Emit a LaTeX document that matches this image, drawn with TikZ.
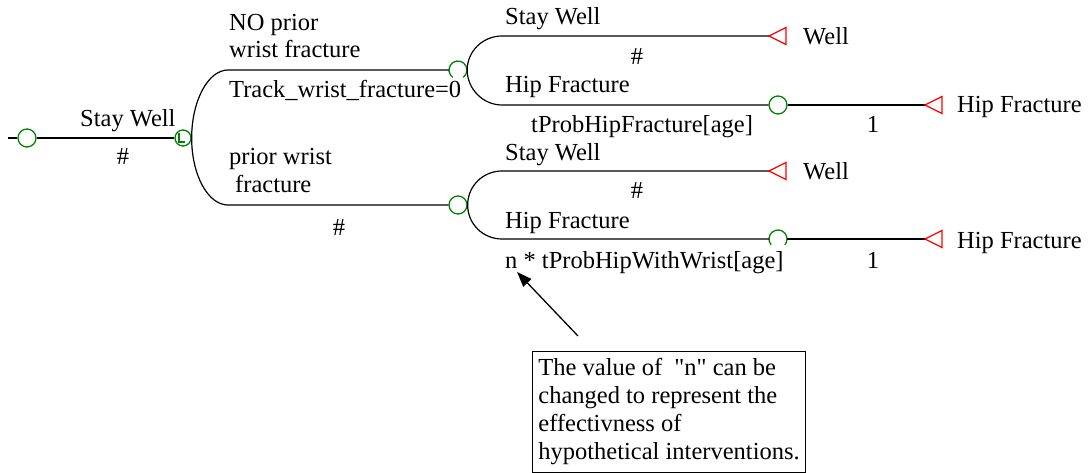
\documentclass[tikz,border=0pt]{standalone}
\usepackage{fontspec}
\setmainfont{Liberation Serif}[Ligatures=NoCommon]
\newfontfamily\treefont{LiberationSerif-Regular.ttf}[Ligatures=NoCommon]
\usetikzlibrary{arrows.meta}
\definecolor{tgreen}{RGB}{0,128,0}
\definecolor{tred}{RGB}{255,0,0}
\tikzset{
  every node/.style={font=\treefont\fontsize{24.5}{28}\selectfont, inner sep=0pt},
  branch/.style={draw=black, line width=1.2pt},
  chance/.style={circle, draw=tgreen, line width=1.3pt, minimum size=18pt},
  chancehid/.style={circle, draw=none, minimum size=18pt},
  markov/.style={circle, draw=tgreen, line width=1.3pt, minimum size=16pt},
  lbl/.style={anchor=base west},
  clbl/.style={anchor=base},
  note/.style={draw=black, line width=0.8pt, align=left, anchor=north west, inner xsep=6pt, inner ysep=7pt},
  term/.pic={\draw[tred, line width=1.3pt] (0,0) -- (17,8.5) -- (17,-8.5) -- cycle;}
}
\begin{document}
\begin{tikzpicture}[x=1pt,y=1pt]
\useasboundingbox (0,0) rectangle (1092,-473);
% nodes
\node[chance] (root) at (27,-138) {};
\node[markov] (mk) at (183,-138) {};
\node[chancehid] (c1) at (458,-70) {};
\node[chance] (c2) at (458,-205) {};
\node[chance] (c3) at (778,-105) {};
\node[chancehid] (c4) at (778,-239) {};
\coordinate (start) at (8,-138);
\coordinate (t1) at (769,-36);
\coordinate (t2) at (925,-105);
\coordinate (t3) at (769,-171);
\coordinate (t4) at (925,-239);
% partial circles
\draw[tgreen, line width=1.3pt] (c1.center) ++(235:9) arc[start angle=235, end angle=-55, radius=9];
\draw[tgreen, line width=1.3pt] (c4.center) ++(220:9) arc[start angle=220, end angle=-40, radius=9];
% Markov L
\draw[tgreen, line width=1.1pt] (mk.center) ++(-4,5) -- ++(0,-9) -- ++(6,0);
% connectors
\draw[branch] (start) -- (root.west);
\draw[branch] (root.east) -- (mk.west);
\draw[branch] (mk.east) .. controls +(0,37) and +(-20,0) .. (228,-70) -- (c1.west);
\draw[branch] (mk.east) .. controls +(0,-37) and +(-20,0) .. (228,-205) -- (c2.west);
\draw[branch] (c1.east) .. controls +(0,19) and +(-19,0) .. (502,-36) -- (t1);
\draw[branch] (c1.east) .. controls +(0,-19) and +(-19,0) .. (502,-105) -- (c3.west);
\draw[branch] (c3.east) -- (t2);
\draw[branch] (c2.east) .. controls +(0,19) and +(-19,0) .. (502,-171) -- (t3);
\draw[branch] (c2.east) .. controls +(0,-19) and +(-19,0) .. (502,-239) -- (c4.west);
\draw[branch] (c4.east) -- (t4);
% terminals
\pic at (t1) {term};
\pic at (t2) {term};
\pic at (t3) {term};
\pic at (t4) {term};
% labels
\node[lbl] (l1) at (80,-127) {Stay Well};
\node[clbl] (l2) at (123,-165) {\#};
\node[lbl] (l3) at (229,-31) {NO prior};
\node[lbl] (l4) at (229,-58) {wrist fracture};
\node[lbl] (l5) at (229,-98) {Track\_wrist\_fracture=0};
\node[lbl] (l6) at (229,-165) {prior wrist};
\node[lbl] (l7) at (235,-193) {fracture};
\node[clbl] (l8) at (339,-236) {\#};
\node[lbl] (l9) at (505,-25) {Stay Well};
\node[clbl] (l10) at (637,-65) {\#};
\node[lbl] (l11) at (505,-93) {Hip Fracture};
\node[lbl] (l12) at (531,-133) {tProbHipFracture[age]};
\node[clbl] (l13) at (873,-133) {1};
\node[lbl] (l14) at (505,-161) {Stay Well};
\node[clbl] (l15) at (637,-199) {\#};
\node[lbl] (l16) at (505,-229) {Hip Fracture};
\node[lbl] (l17) at (505,-268) {n * tProbHipWithWrist[age]};
\node[clbl] (l18) at (873,-268) {1};
\node[lbl] (w1) at (803,-45) {Well};
\node[lbl] (w2) at (957,-113) {Hip Fracture};
\node[lbl] (w3) at (803,-180) {Well};
\node[lbl] (w4) at (957,-248) {Hip Fracture};
% note
\node[note] (note) at (532,-351) {The value of\ \ \symbol{34}n\symbol{34} can be\\changed to represent the\\effectivness of\\hypothetical interventions.};
\coordinate (atail) at (578,-336);
\coordinate (ahead) at (517,-272);
\draw[line width=1.3pt, -{Triangle[length=15pt,width=11pt]}] (atail) -- (ahead);
\end{tikzpicture}
\end{document}
